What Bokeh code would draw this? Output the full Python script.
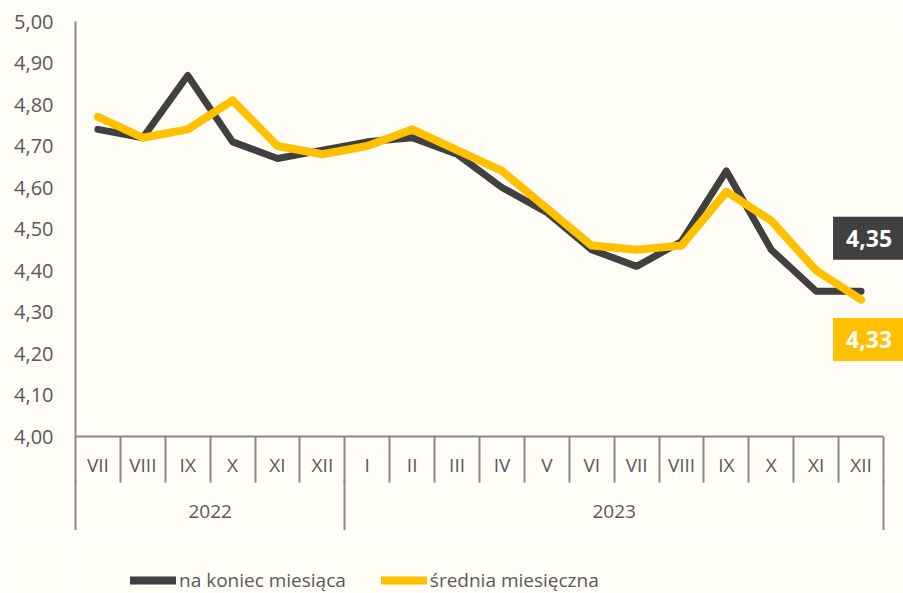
from bokeh.plotting import figure
from bokeh.layouts import column
from bokeh.models import (Range1d, FixedTicker, LinearAxis, CustomJSTickFormatter,
                          Legend, LegendItem, Label)
from bokeh.embed import file_html
from bokeh.resources import INLINE

# ---- data ----
months = ["VII", "VIII", "IX", "X", "XI", "XII",
          "I", "II", "III", "IV", "V", "VI", "VII", "VIII", "IX", "X", "XI", "XII"]
years = ["2022", "2023"]
year_counts = [6, 12]
end_of_month = [4.74, 4.72, 4.87, 4.71, 4.67, 4.69, 4.71, 4.72, 4.68, 4.60,
                4.54, 4.45, 4.41, 4.47, 4.64, 4.45, 4.35, 4.35]
monthly_avg = [4.77, 4.72, 4.74, 4.81, 4.70, 4.68, 4.70, 4.74, 4.69, 4.64,
               4.55, 4.46, 4.45, 4.46, 4.59, 4.52, 4.40, 4.33]
y_ticks = [4.0, 4.1, 4.2, 4.3, 4.4, 4.5, 4.6, 4.7, 4.8, 4.9, 5.0]
series_names = ["na koniec miesiąca", "średnia miesięczna"]

DARK = "#404040"
YELLOW = "#FFC000"
TXT = "#595959"
AXIS = "#898989"
BG = "#FFFDF5"
FONT = "Open Sans"

W = 903
H_MAIN, H_LEG = 530, 63
LEFT, TOP, AXIS_RIGHT, BOTTOM = 75, 21, 883, 436

n = len(months)
xs = [i + 0.5 for i in range(n)]
x_end = n * (W - LEFT) / (AXIS_RIGHT - LEFT)   # room for the end labels

p = figure(width=W, height=H_MAIN, output_backend="svg", toolbar_location=None,
           x_range=Range1d(0, x_end), y_range=Range1d(y_ticks[0], y_ticks[-1]),
           min_border_left=LEFT, min_border_right=0, min_border_top=TOP,
           min_border_bottom=H_MAIN - BOTTOM)
p.outline_line_color = None
p.xgrid.visible = False
p.ygrid.visible = False
p.background_fill_color = BG
p.border_fill_color = BG

r1 = p.line(xs, end_of_month, line_color=DARK, line_width=7,
            line_join="round", line_cap="round")
r2 = p.line(xs, monthly_avg, line_color=YELLOW, line_width=8,
            line_join="round", line_cap="round")

# y axis
ya = p.yaxis[0]
ya.ticker = FixedTicker(ticks=y_ticks)
ya.formatter = CustomJSTickFormatter(code="return tick.toFixed(2).replace('.', ',')")
ya.axis_line_color = AXIS
ya.axis_line_width = 2
ya.major_tick_line_color = None
ya.major_tick_out = 0
ya.major_tick_in = 0
ya.minor_tick_line_color = None
ya.major_label_standoff = 22
ya.major_label_text_font = FONT
ya.major_label_text_font_size = "20px"
ya.major_label_text_color = TXT

# month axis (month separators drawn as minor ticks)
xa = p.xaxis[0]
xa.bounds = (0, n)
xa.ticker = FixedTicker(ticks=xs, minor_ticks=list(range(n + 1)))
xa.formatter = CustomJSTickFormatter(args=dict(labels=months),
                                     code="return labels[Math.floor(tick)]")
xa.axis_line_color = AXIS
xa.axis_line_width = 2
xa.major_tick_line_color = None
xa.major_tick_out = 0
xa.major_tick_in = 0
xa.minor_tick_line_color = AXIS
xa.minor_tick_line_width = 2
xa.minor_tick_in = 0
xa.minor_tick_out = 46
xa.major_label_standoff = -31
xa.major_label_text_font = FONT
xa.major_label_text_font_size = "19px"
xa.major_label_text_color = TXT

# year axis (year separators drawn as minor ticks)
bounds = [0]
for c in year_counts:
    bounds.append(bounds[-1] + c)
centers = [(bounds[i] + bounds[i + 1]) / 2 for i in range(len(years))]
yr = LinearAxis(ticker=FixedTicker(ticks=centers, minor_ticks=bounds),
                formatter=CustomJSTickFormatter(args=dict(c=centers, y=years),
                                                code="return y[c.indexOf(tick)]"))
yr.bounds = (0, n)
yr.axis_line_color = None
yr.major_tick_line_color = None
yr.major_tick_out = 0
yr.major_tick_in = 0
yr.minor_tick_line_color = AXIS
yr.minor_tick_line_width = 2
yr.minor_tick_in = 0
yr.minor_tick_out = 51
yr.major_label_standoff = -27
yr.major_label_text_font = FONT
yr.major_label_text_font_size = "19px"
yr.major_label_text_color = TXT
p.add_layout(yr, "below")

# end labels
fmt = lambda v: f"{v:.2f}".replace(".", ",")
p.add_layout(Label(x=xs[-1], y=end_of_month[-1], text=fmt(end_of_month[-1]),
                   x_offset=8, y_offset=53, text_align="center", text_baseline="middle",
                   text_font=FONT, text_font_style="bold", text_font_size="23px",
                   text_color="white", background_fill_color=DARK, padding=13))
p.add_layout(Label(x=xs[-1], y=monthly_avg[-1], text=fmt(monthly_avg[-1]),
                   x_offset=8, y_offset=-40, text_align="center", text_baseline="middle",
                   text_font=FONT, text_font_style="bold", text_font_size="23px",
                   text_color="white", background_fill_color=YELLOW, padding=13))

# legend strip below the chart (its sample lines fall outside its own ranges)
p2 = figure(width=W, height=H_LEG, output_backend="svg", toolbar_location=None,
            x_range=Range1d(0, 1), y_range=Range1d(0, 1),
            x_axis_location=None, y_axis_location=None, min_border=0)
p2.outline_line_color = None
p2.xgrid.visible = False
p2.ygrid.visible = False
p2.background_fill_color = BG
p2.border_fill_color = BG
k1 = p2.line(xs, end_of_month, line_color=DARK, line_width=8, line_cap="round")
k2 = p2.line(xs, monthly_avg, line_color=YELLOW, line_width=8, line_cap="round")
legend = Legend(items=[LegendItem(label=series_names[0], renderers=[k1]),
                       LegendItem(label=series_names[1], renderers=[k2])],
                orientation="horizontal", location=(55, 0),
                glyph_width=46, glyph_height=20, label_standoff=3, spacing=35,
                padding=0, margin=0, border_line_color=None,
                background_fill_alpha=0,
                label_text_font=FONT, label_text_font_size="19px",
                label_text_color=TXT)
p2.add_layout(legend)

layout = column(p, p2, spacing=0)
open("out.html", "w").write(file_html(layout, INLINE))
